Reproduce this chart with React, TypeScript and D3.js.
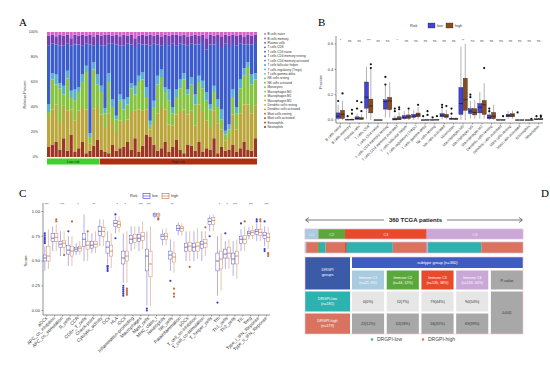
import * as d3 from "d3";

const SANS = "'Liberation Sans', Arial, sans-serif";
const SERIF = "'Liberation Serif', 'Times New Roman', serif";

// ---------- panel A: CIBERSORT fractions per sample ----------
const cellTypes = [
  "B cells naive", "B cells memory", "Plasma cells", "T cells CD8", "T cells CD4 naive",
  "T cells CD4 memory resting", "T cells CD4 memory activated", "T cells follicular helper",
  "T cells regulatory (Tregs)", "T cells gamma delta", "NK cells resting", "NK cells activated",
  "Monocytes", "Macrophages M0", "Macrophages M1", "Macrophages M2", "Dendritic cells resting",
  "Dendritic cells activated", "Mast cells resting", "Mast cells activated", "Eosinophils", "Neutrophils",
];
const cellColors = [
  "#d862c8", "#a84fc4", "#7440b0", "#5a48c0", "#4652c8", "#3b5ccc", "#3f78d0", "#4a90d0",
  "#58b0d0", "#4bb8a8", "#45b884", "#55b855", "#6fbf45", "#86c33e", "#a5bb3c", "#bba63c",
  "#c89a38", "#c98036", "#b85030", "#9c3526", "#8a3024", "#6a2a20",
];
// bands drawn bottom -> top (index into cellTypes)
const bandCells = [19, 15, 13, 8, 5, 2, 0];
const redPct = [8, 10, 12, 6, 15, 5, 18, 4, 7, 12, 3, 5, 9, 14, 6, 4, 3, 10, 5, 7, 8, 12, 6, 15, 4, 9, 18, 16, 10, 5, 7, 12, 4, 8, 14, 6, 3, 10, 9, 5, 12, 4, 7, 6, 15, 3, 8, 5, 6, 10, 4, 7, 12, 6, 5, 15];
const olivePct = [24, 28, 30, 22, 26, 32, 20, 25, 30, 28, 35, 6, 30, 26, 28, 20, 32, 18, 15, 22, 20, 18, 30, 22, 34, 28, 20, 6, 18, 30, 33, 26, 22, 17, 20, 30, 35, 24, 28, 20, 30, 32, 22, 18, 22, 24, 14, 8, 10, 24, 18, 28, 30, 36, 30, 26];
const greenPct = [4, 24, 16, 27, 9, 26, 10, 16, 15, 20, 30, 5, 31, 18, 18, 11, 25, 12, 10, 16, 10, 12, 19, 13, 22, 25, 10, 3, 12, 23, 24, 14, 19, 10, 14, 19, 24, 16, 21, 17, 18, 19, 16, 14, 15, 13, 8, 5, 6, 14, 13, 20, 23, 30, 23, 21];
const tealPct = [6, 5, 8, 4, 7, 6, 5, 9, 4, 6, 5, 3, 6, 8, 5, 4, 7, 6, 3, 5, 8, 6, 4, 7, 5, 6, 8, 4, 5, 7, 6, 4, 9, 5, 6, 7, 5, 4, 6, 8, 5, 6, 7, 4, 5, 6, 8, 3, 4, 6, 5, 7, 6, 4, 8, 5];
const bluePct = [47, 24, 24, 30, 32, 22, 36, 36, 34, 23, 18, 71, 13, 26, 32, 50, 24, 45, 57, 39, 43, 43, 31, 31, 26, 22, 34, 60, 46, 25, 19, 36, 35, 51, 35, 29, 23, 35, 27, 40, 25, 31, 34, 48, 33, 46, 50, 70, 62, 38, 49, 29, 19, 14, 24, 25];
const purplePct = [8, 7, 6, 9, 8, 7, 6, 8, 7, 9, 6, 8, 7, 6, 8, 9, 7, 6, 8, 7, 9, 6, 8, 7, 6, 8, 7, 9, 6, 8, 7, 6, 8, 7, 9, 6, 8, 7, 6, 8, 7, 6, 9, 8, 7, 6, 8, 7, 9, 6, 8, 7, 6, 8, 7, 6];
const pinkPct = [3, 2, 4, 2, 3, 2, 5, 2, 3, 2, 3, 2, 4, 2, 3, 2, 2, 3, 2, 4, 2, 3, 2, 5, 3, 2, 3, 2, 3, 2, 4, 2, 3, 2, 2, 3, 2, 4, 3, 2, 3, 2, 5, 2, 3, 2, 4, 2, 3, 2, 3, 2, 4, 2, 3, 2];
const lowRiskSamples = 14;
const pctTicks = [0, 0.2, 0.4, 0.6, 0.8, 1];

// ---------- panel B: fraction by risk ----------
type Box = [number, number, number, number, number]; // lo, q1, med, q3, hi
const bLow: Box[] = [
  [0, 0.012, 0.03, 0.056, 0.12], [0, 0, 0.001, 0.004, 0.01], [0, 0.005, 0.012, 0.025, 0.05],
  [0.01, 0.093, 0.18, 0.3, 0.42], [0, 0, 0, 0.001, 0.002], [0.02, 0.086, 0.145, 0.16, 0.27],
  [0, 0, 0.004, 0.015, 0.035], [0, 0.01, 0.02, 0.035, 0.07], [0, 0.02, 0.03, 0.045, 0.08],
  [0, 0, 0, 0.001, 0.002], [0, 0, 0, 0.002, 0.005], [0.005, 0.025, 0.038, 0.05, 0.085],
  [0, 0.005, 0.01, 0.015, 0.03], [0, 0.044, 0.13, 0.257, 0.58], [0.01, 0.05, 0.07, 0.09, 0.15],
  [0.01, 0.056, 0.1, 0.13, 0.22], [0, 0.01, 0.02, 0.04, 0.08], [0, 0, 0, 0.002, 0.005],
  [0.01, 0.025, 0.035, 0.045, 0.07], [0, 0, 0, 0.001, 0.002], [0, 0, 0, 0.001, 0.002],
  [0, 0.002, 0.005, 0.01, 0.02],
];
const bHigh: Box[] = [
  [0, 0.012, 0.045, 0.076, 0.15], [0, 0, 0.002, 0.006, 0.015], [0, 0.004, 0.01, 0.02, 0.045],
  [0, 0.056, 0.11, 0.165, 0.4], [0, 0, 0, 0.001, 0.002], [0.02, 0.081, 0.15, 0.179, 0.3],
  [0, 0.002, 0.008, 0.025, 0.06], [0, 0.012, 0.025, 0.04, 0.08], [0.005, 0.025, 0.04, 0.055, 0.1],
  [0, 0, 0, 0.002, 0.005], [0, 0, 0, 0.003, 0.008], [0.005, 0.02, 0.03, 0.045, 0.08],
  [0, 0.004, 0.008, 0.013, 0.025], [0, 0.076, 0.16, 0.33, 0.6], [0.01, 0.04, 0.06, 0.09, 0.16],
  [0.01, 0.044, 0.12, 0.154, 0.29], [0, 0.01, 0.03, 0.06, 0.12], [0, 0, 0, 0.002, 0.005],
  [0.01, 0.025, 0.04, 0.05, 0.075], [0, 0, 0, 0.001, 0.003], [0, 0, 0, 0.001, 0.002],
  [0, 0.003, 0.006, 0.012, 0.02],
];
const bLowOut = [[0.15], [0.03], [0.15, 0.09], [], [], [0.34, 0.28], [0.07, 0.09], [], [], [0.03], [0.02], [0.1, 0.12], [0.09, 0.05], [], [0.2, 0.18], [], [0.09, 0.07], [], [], [0.06], [], [0.03]];
const bHighOut = [[0.21], [0.08, 0.05], [0.14, 0.07], [0.44, 0.41], [], [], [0.1, 0.085], [0.09], [0.12], [0.07, 0.04], [0.03], [0.11], [], [], [], [0.41], [], [0.03], [], [], [0.01], [0.035, 0.025]];
const bSig = ["*", "ns", "ns", "***", "ns", "ns", "*", "ns", "ns", "ns", "ns", "ns", "ns", "**", "ns", "ns", "ns", "ns", "ns", "ns", "ns", "ns"];
const bTicks = [0, 0.2, 0.4, 0.6];

// ---------- panel C: ssGSEA scores by risk ----------
const cSets = [
  "aDCs", "APC_co_inhibition", "APC_co_stimulation", "B_cells", "CCR", "CD8+_T_cells", "Check-point",
  "Cytolytic_activity", "DCs", "HLA", "iDCs", "Inflammation-promoting", "Macrophages", "Mast_cells",
  "MHC_class_I", "Neutrophils", "NK_cells", "Parainflammation", "pDCs", "T_cell_co-inhibition",
  "T_cell_co-stimulation", "T_helper_cells", "Tfh", "Th1_cells", "Th2_cells", "TIL", "Treg",
  "Type_I_IFN_Reponse", "Type_II_IFN_Reponse",
];
const cLow: Box[] = [
  [0.4, 0.5, 0.53, 0.56, 0.65], [0.6, 0.7, 0.73, 0.78, 0.85], [0.55, 0.64, 0.67, 0.7, 0.8], [0.45, 0.57, 0.61, 0.66, 0.75],
  [0.56, 0.6, 0.62, 0.64, 0.68], [0.5, 0.65, 0.72, 0.78, 0.97], [0.58, 0.63, 0.66, 0.7, 0.78], [0.65, 0.76, 0.8, 0.85, 0.92],
  [0.47, 0.58, 0.64, 0.7, 0.8], [0.78, 0.85, 0.88, 0.91, 0.95], [0.28, 0.47, 0.53, 0.6, 0.78], [0.6, 0.68, 0.72, 0.76, 0.85],
  [0.6, 0.7, 0.73, 0.77, 0.85], [0.05, 0.4, 0.55, 0.62, 0.8], [0.93, 0.95, 0.965, 0.98, 0.995], [0.66, 0.72, 0.75, 0.77, 0.82],
  [0.4, 0.52, 0.56, 0.6, 0.72], [0.76, 0.81, 0.83, 0.86, 0.89], [0.5, 0.6, 0.64, 0.68, 0.8], [0.5, 0.6, 0.64, 0.68, 0.8],
  [0.5, 0.63, 0.67, 0.7, 0.8], [0.8, 0.87, 0.9, 0.93, 0.96], [0.15, 0.4, 0.5, 0.58, 0.75], [0.42, 0.53, 0.57, 0.62, 0.7],
  [0.35, 0.47, 0.52, 0.58, 0.7], [0.6, 0.68, 0.72, 0.75, 0.82], [0.72, 0.76, 0.78, 0.8, 0.84], [0.7, 0.77, 0.8, 0.82, 0.88],
  [0.65, 0.73, 0.76, 0.79, 0.85],
];
const cHigh: Box[] = [
  [0.42, 0.5, 0.55, 0.65, 0.82], [0.6, 0.7, 0.74, 0.78, 0.87], [0.55, 0.64, 0.68, 0.71, 0.8], [0.45, 0.55, 0.6, 0.65, 0.75],
  [0.56, 0.6, 0.63, 0.65, 0.7], [0.5, 0.62, 0.66, 0.7, 0.8], [0.58, 0.64, 0.67, 0.7, 0.8], [0.65, 0.75, 0.8, 0.84, 0.92],
  [0.43, 0.55, 0.6, 0.66, 0.78], [0.79, 0.84, 0.87, 0.9, 0.95], [0.28, 0.5, 0.55, 0.6, 0.8], [0.62, 0.69, 0.73, 0.77, 0.85],
  [0.62, 0.71, 0.75, 0.79, 0.9], [0.05, 0.34, 0.47, 0.6, 0.85], [0.93, 0.95, 0.965, 0.98, 0.995], [0.66, 0.72, 0.75, 0.78, 0.83],
  [0.38, 0.49, 0.54, 0.58, 0.7], [0.75, 0.8, 0.83, 0.85, 0.88], [0.5, 0.6, 0.65, 0.69, 0.8], [0.52, 0.6, 0.65, 0.69, 0.83],
  [0.55, 0.64, 0.68, 0.72, 0.8], [0.8, 0.87, 0.91, 0.94, 0.97], [0.2, 0.42, 0.52, 0.6, 0.78], [0.42, 0.53, 0.58, 0.64, 0.72],
  [0.32, 0.47, 0.55, 0.6, 0.72], [0.6, 0.68, 0.72, 0.76, 0.85], [0.72, 0.76, 0.79, 0.81, 0.86], [0.7, 0.76, 0.79, 0.82, 0.88],
  [0.62, 0.7, 0.74, 0.78, 0.84],
];
const cLowOut = [[0.68, 0.7, 0.72, 0.74, 0.76, 0.78], [], [], [0.8], [], [], [], [], [0.4, 0.42, 0.44, 0.45], [0.73, 0.97], [0.15, 0.17, 0.19, 0.21, 0.23, 0.25], [], [], [0, 0.02], [], [], [0.3], [], [], [], [], [0.75], [0.08], [0.78], [], [0.88], [], [0.9, 0.92], [0.6, 0.62, 0.9]];
const cHighOut = [[], [0.9, 0.92], [0.56], [0.9], [], [0.8], [], [], [], [], [0.16, 0.18, 0.2, 0.22], [], [], [], [0.92, 0.93], [], [0.22, 0.17, 0.14], [], [0.44], [], [0.84], [], [], [], [], [0.9], [], [0.9, 0.92], [0.55, 0.57, 0.58]];
const cSig = ["***", "", "***", "", "*", "", "**", "", "", "*", "*", "", "***", "***", "", "", "**", "", "", "", "", "", "*", "*", "***", "", "***", "", "***"];
const cTicks = [0, 0.25, 0.5, 0.75, 1];

// ---------- panel D: subtype table ----------
const subtypes = ["C1", "C2", "C3", "C4"];
const subtypeColors = ["#a8cbe0", "#5aa83c", "#e84a2c", "#c9a8d8"];
const lowCounts = [0, 12, 79, 90];
const highCounts = [22, 32, 56, 69];
const pValue = "0.001";
const lowColor = "#2cb3b0";
const highColor = "#d9735f";

const riskColors = { low: "#4343d4", high: "#8a4b1e" };
const cColors = { low: "#3a3ad0", high: "#c0693e" };

function BoxPair(props: {
  cx: number; w: number; s: Box; outs: number[]; y: d3.ScaleLinear<number, number>;
  stroke: string; fill: string; med: string; dot: string; sw: number;
}) {
  const { cx, w, s, outs, y, stroke, fill, med, dot, sw } = props;
  const [lo, q1, m, q3, hi] = s;
  return (
    <g>
      <line x1={cx} x2={cx} y1={y(lo)} y2={y(q1)} stroke={stroke} strokeWidth={sw} />
      <line x1={cx} x2={cx} y1={y(q3)} y2={y(hi)} stroke={stroke} strokeWidth={sw} />
      <rect x={cx - w / 2} y={y(q3)} width={w} height={Math.max(0.4, y(q1) - y(q3))} fill={fill} stroke={stroke} strokeWidth={sw} />
      <line x1={cx - w / 2} x2={cx + w / 2} y1={y(m)} y2={y(m)} stroke={med} strokeWidth={sw * 1.8} />
      {outs.map((o, i) => (
        <circle key={i} cx={cx} cy={y(o)} r={1.1} fill={dot} />
      ))}
    </g>
  );
}

export default function App() {
  // ----- A -----
  const nSamples = redPct.length;
  const samples = d3.range(nSamples).map((i) => ({
    i, b0: redPct[i], b1: olivePct[i], b2: greenPct[i], b3: tealPct[i], b4: bluePct[i], b5: purplePct[i], b6: pinkPct[i],
  }));
  const keys = ["b0", "b1", "b2", "b3", "b4", "b5", "b6"];
  const stacked = d3.stack<any>().keys(keys).offset(d3.stackOffsetExpand)(samples);
  const xA = d3.scaleBand<number>().domain(d3.range(nSamples)).range([47, 257]).paddingInner(0.14);
  const yA = d3.scaleLinear().domain([0, 1]).range([157, 32]);
  const legY = d3.scaleLinear().domain([0, cellTypes.length - 1]).range([34, 127]);

  // ----- B -----
  const xB = d3.scaleBand<string>().domain(cellTypes).range([336, 543]).paddingInner(0.08);
  const yB = d3.scaleLinear().domain([0, 0.6]).range([120, 44]);
  const bwB = xB.bandwidth() / 2;

  // ----- C -----
  const xC = d3.scaleBand<string>().domain(cSets).range([43, 270]).paddingInner(0.08);
  const yC = d3.scaleLinear().domain([0, 1]).range([310.5, 211.5]);
  const bwC = xC.bandwidth() / 2;

  // ----- D -----
  const nTotal = d3.sum(lowCounts) + d3.sum(highCounts);
  const nLow = d3.sum(lowCounts);
  const nHigh = d3.sum(highCounts);
  const subN = subtypes.map((_, i) => lowCounts[i] + highCounts[i]);
  const starts = subN.map((_, i) => d3.sum(subN.slice(0, i)));
  const xD = d3.scaleLinear().domain([0, nTotal]).range([305, 523]);
  const colD = d3.scaleBand<number>().domain([0, 1, 2, 3, 4]).range([352, 523]).paddingInner(0.075);
  const pct = (a: number, b: number) => Math.round((a / b) * 100);
  const rows = { head: [257, 268], sub: [270.5, 289.5], low: [291.5, 311.5], high: [313.5, 334] };

  return (
    <svg width={550} height={374} viewBox="0 0 550 374" style={{ position: "absolute", left: 0, top: 0, background: "#fff" }} fontFamily={SANS}>
      <rect width={550} height={374} fill="#fff" />
      {/* panel letters */}
      <text x={19} y={26} fontFamily={SERIF} fontSize={11}>A</text>
      <text x={318} y={26} fontFamily={SERIF} fontSize={11}>B</text>
      <text x={19} y={197} fontFamily={SERIF} fontSize={11}>C</text>
      <text x={541} y={197} fontFamily={SERIF} fontSize={11}>D</text>

      {/* ---------- A ---------- */}
      <g>
        {pctTicks.map((t) => (
          <text key={t} x={38} y={yA(t) + 1.3} fontSize={3.6} textAnchor="end" fill="#333">{`${t * 100}%`}</text>
        ))}
        <text transform={`translate(26,${(yA(0) + yA(1)) / 2}) rotate(-90)`} fontSize={3.8} textAnchor="middle" fill="#333">Relative Percent</text>
        {stacked.map((layer, li) => (
          <g key={li} fill={cellColors[bandCells[li]]}>
            {layer.map((d, j) => (
              <rect key={j} x={xA(j)} y={yA(d[1])} width={xA.bandwidth()} height={yA(d[0]) - yA(d[1])} />
            ))}
          </g>
        ))}
        <rect x={xA(0)} y={158.5} width={(xA(lowRiskSamples - 1) as number) + xA.bandwidth() - (xA(0) as number)} height={6} fill="#3fd12b" />
        <rect x={xA(lowRiskSamples)} y={158.5} width={257 - (xA(lowRiskSamples) as number)} height={6} fill="#ad2f12" />
        <text x={((xA(0) as number) + (xA(lowRiskSamples) as number)) / 2} y={163} fontSize={3.4} textAnchor="middle" fill="#222">Low risk</text>
        <text x={((xA(lowRiskSamples) as number) + 257) / 2} y={163} fontSize={3.4} textAnchor="middle" fill="#222">High risk</text>
        {cellTypes.map((c, i) => (
          <g key={c}>
            <circle cx={265} cy={legY(i)} r={0.9} fill={cellColors[i]} />
            <text x={267.5} y={legY(i) + 1.1} fontSize={3.1} fill="#333">{c}</text>
          </g>
        ))}
      </g>

      {/* ---------- B ---------- */}
      <g>
        <text x={410} y={27} fontSize={3.8} fill="#333">Risk</text>
        <rect x={428} y={23} width={7} height={5} fill={riskColors.low} stroke="#222" strokeWidth={0.3} />
        <text x={437} y={27} fontSize={3.8} fill="#333">low</text>
        <rect x={446} y={23} width={7} height={5} fill={riskColors.high} stroke="#222" strokeWidth={0.3} />
        <text x={455} y={27} fontSize={3.8} fill="#333">high</text>
        <line x1={336} x2={336} y1={36} y2={123} stroke="#222" strokeWidth={0.5} />
        <line x1={336} x2={543} y1={123} y2={123} stroke="#222" strokeWidth={0.5} />
        {bTicks.map((t) => (
          <g key={t}>
            <line x1={334.5} x2={336} y1={yB(t)} y2={yB(t)} stroke="#222" strokeWidth={0.4} />
            <text x={333} y={yB(t) + 1.3} fontSize={3.8} textAnchor="end" fill="#333">{t.toFixed(1)}</text>
          </g>
        ))}
        <text transform={`translate(322,82) rotate(-90)`} fontSize={3.8} textAnchor="middle" fill="#333">Fraction</text>
        {cellTypes.map((c, i) => {
          const x0 = xB(c) as number;
          const cx = x0 + xB.bandwidth() / 2;
          return (
            <g key={c}>
              <BoxPair cx={x0 + bwB / 2} w={bwB * 0.95} s={bLow[i]} outs={bLowOut[i]} y={yB} stroke="#222" fill={riskColors.low} med="#111" dot="#111" sw={0.35} />
              <BoxPair cx={x0 + bwB * 1.5} w={bwB * 0.95} s={bHigh[i]} outs={bHighOut[i]} y={yB} stroke="#222" fill={riskColors.high} med="#111" dot="#111" sw={0.35} />
              <text x={cx} y={41.5} fontSize={3.2} textAnchor="middle" fill="#444">{bSig[i]}</text>
              <line x1={cx} x2={cx} y1={123} y2={124.5} stroke="#222" strokeWidth={0.4} />
              <text transform={`translate(${cx + 1},126.5) rotate(-45)`} fontSize={3.7} textAnchor="end" fill="#333">{c}</text>
            </g>
          );
        })}
      </g>

      {/* ---------- C ---------- */}
      <g>
        <text x={130} y={197} fontSize={3.8} fill="#333">Risk</text>
        <rect x={143} y={193.5} width={7} height={5} fill="#fff" stroke={cColors.low} strokeWidth={0.6} />
        <line x1={143} x2={150} y1={196} y2={196} stroke={cColors.low} strokeWidth={0.6} />
        <text x={152} y={197} fontSize={3.8} fill="#333">low</text>
        <rect x={162} y={193.5} width={7} height={5} fill="#fff" stroke={cColors.high} strokeWidth={0.6} />
        <line x1={162} x2={169} y1={196} y2={196} stroke={cColors.high} strokeWidth={0.6} />
        <text x={171} y={197} fontSize={3.8} fill="#333">high</text>
        <line x1={43} x2={43} y1={203} y2={315} stroke="#222" strokeWidth={0.5} />
        <line x1={43} x2={270} y1={315} y2={315} stroke="#222" strokeWidth={0.5} />
        {cTicks.map((t) => (
          <g key={t}>
            <line x1={41.5} x2={43} y1={yC(t)} y2={yC(t)} stroke="#222" strokeWidth={0.4} />
            <text x={40} y={yC(t) + 1.4} fontSize={4.2} textAnchor="end" fill="#333">{t.toFixed(2)}</text>
          </g>
        ))}
        <text transform={`translate(27,261) rotate(-90)`} fontSize={4.2} textAnchor="middle" fill="#333">Score</text>
        {cSets.map((c, i) => {
          const x0 = xC(c) as number;
          const cx = x0 + xC.bandwidth() / 2;
          return (
            <g key={c}>
              <BoxPair cx={x0 + bwC / 2} w={bwC * 0.9} s={cLow[i]} outs={cLowOut[i]} y={yC} stroke={cColors.low} fill="#fff" med={cColors.low} dot={cColors.low} sw={0.4} />
              <BoxPair cx={x0 + bwC * 1.5} w={bwC * 0.9} s={cHigh[i]} outs={cHighOut[i]} y={yC} stroke={cColors.high} fill="#fff" med={cColors.high} dot={cColors.high} sw={0.4} />
              <text x={cx} y={206} fontSize={3.4} textAnchor="middle" fill="#444">{cSig[i]}</text>
              <line x1={cx} x2={cx} y1={315} y2={316.5} stroke="#222" strokeWidth={0.4} />
              <text transform={`translate(${cx + 1},318.5) rotate(-45)`} fontSize={4.6} textAnchor="end" fill="#333">{c}</text>
            </g>
          );
        })}
      </g>

      {/* ---------- D ---------- */}
      <g>
        <line x1={306} x2={522} y1={220} y2={220} stroke="#222" strokeWidth={0.6} />
        <path d="M309,217.5 L305.5,220 L309,222.5" fill="none" stroke="#222" strokeWidth={0.6} />
        <path d="M519,217.5 L522.5,220 L519,222.5" fill="none" stroke="#222" strokeWidth={0.6} />
        <rect x={384} y={215} width={63} height={9} fill="#fff" />
        <text x={415.5} y={222} fontSize={6} fontWeight="bold" textAnchor="middle" fill="#222">{`${nTotal} TCGA patients`}</text>

        {subtypes.map((s, i) => (
          <g key={s}>
            <rect x={xD(starts[i])} y={229} width={xD(subN[i]) - xD(0)} height={10} fill={subtypeColors[i]} />
            <text x={xD(starts[i] + subN[i] / 2)} y={235.5} fontSize={3.8} textAnchor="middle" fill="#eee">{s}</text>
          </g>
        ))}
        <rect x={305} y={229} width={218} height={10} fill="none" stroke="#e9b6d9" strokeWidth={0.7} />
        {subtypes.map((s, i) => (
          <g key={s}>
            <rect x={xD(starts[i])} y={242} width={xD(lowCounts[i]) - xD(0)} height={11} fill={lowColor} />
            <rect x={xD(starts[i] + lowCounts[i])} y={242} width={xD(highCounts[i]) - xD(0)} height={11} fill={highColor} />
            <rect x={xD(starts[i])} y={242} width={1.4} height={11} fill={subtypeColors[i]} />
          </g>
        ))}
        <rect x={305} y={242} width={218} height={11} fill="none" stroke="#e9b6d9" strokeWidth={0.7} />

        {/* table */}
        <rect x={305} y={rows.head[0]} width={45} height={rows.sub[1] - rows.head[0]} fill="#3b5aa8" />
        <text x={327.5} y={271} fontSize={3.8} textAnchor="middle" fill="#fff">DRGPI</text>
        <text x={327.5} y={276} fontSize={3.8} textAnchor="middle" fill="#fff">groups</text>
        <rect x={305} y={rows.low[0]} width={45} height={rows.low[1] - rows.low[0]} fill={lowColor} />
        <text x={327.5} y={300} fontSize={3.8} textAnchor="middle" fill="#fff">DRGPI-low</text>
        <text x={327.5} y={305} fontSize={3.8} textAnchor="middle" fill="#fff">{`(n=${nLow})`}</text>
        <rect x={305} y={rows.high[0]} width={45} height={rows.high[1] - rows.high[0]} fill={highColor} />
        <text x={327.5} y={322} fontSize={3.8} textAnchor="middle" fill="#fff">DRGPI-high</text>
        <text x={327.5} y={327} fontSize={3.8} textAnchor="middle" fill="#fff">{`(n=${nHigh})`}</text>

        <rect x={352} y={rows.head[0]} width={171} height={rows.head[1] - rows.head[0]} fill="#3f5cc2" />
        <text x={437.5} y={264} fontSize={4} textAnchor="middle" fill="#fff">{`subtype group (n=${nTotal})`}</text>
        {subtypes.map((s, i) => {
          const x0 = colD(i) as number;
          const w = colD.bandwidth();
          const cx = x0 + w / 2;
          return (
            <g key={s}>
              <rect x={x0} y={rows.sub[0]} width={w} height={rows.sub[1] - rows.sub[0]} fill={subtypeColors[i]} />
              <text x={cx} y={279} fontSize={3.6} textAnchor="middle" fill="#fff">{`Immune ${s}`}</text>
              <text x={cx} y={284} fontSize={3.6} textAnchor="middle" fill="#fff">{`(n=${subN[i]}, ${pct(subN[i], nTotal)}%)`}</text>
              <rect x={x0} y={rows.low[0]} width={w} height={rows.low[1] - rows.low[0]} fill="#e6e6e6" />
              <text x={cx} y={302.5} fontSize={3.8} textAnchor="middle" fill="#333">{`${lowCounts[i]}(${pct(lowCounts[i], nLow)}%)`}</text>
              <rect x={x0} y={rows.high[0]} width={w} height={rows.high[1] - rows.high[0]} fill="#a8a8a8" />
              <text x={cx} y={325} fontSize={3.8} textAnchor="middle" fill="#333">{`${highCounts[i]}(${pct(highCounts[i], nHigh)}%)`}</text>
            </g>
          );
        })}
        <rect x={colD(4)} y={rows.sub[0]} width={colD.bandwidth()} height={rows.sub[1] - rows.sub[0]} fill="#a8a8a8" />
        <text x={(colD(4) as number) + colD.bandwidth() / 2} y={281.5} fontSize={3.8} textAnchor="middle" fill="#333">P-value</text>
        <rect x={colD(4)} y={rows.low[0]} width={colD.bandwidth()} height={rows.high[1] - rows.low[0]} fill="#a8a8a8" />
        <text x={(colD(4) as number) + colD.bandwidth() / 2} y={314} fontSize={3.8} textAnchor="middle" fill="#333">{pValue}</text>
        <rect x={305} y={257} width={218} height={77} fill="none" stroke="#f0c6dc" strokeWidth={0.6} />

        <circle cx={372} cy={339.5} r={1.2} fill={lowColor} />
        <text x={377} y={341.3} fontSize={5} fill="#444">DRGPI-low</text>
        <circle cx={423} cy={339.5} r={1.2} fill={highColor} />
        <text x={428} y={341.3} fontSize={5} fill="#444">DRGPI-high</text>
      </g>
    </svg>
  );
}
